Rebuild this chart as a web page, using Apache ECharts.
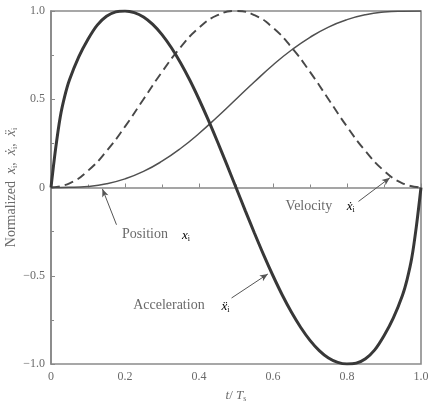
<!DOCTYPE html>
<html>
<head>
<meta charset="utf-8">
<script src="https://cdn.jsdelivr.net/npm/echarts@6/dist/echarts.min.js"></script>
<style>html,body{margin:0;padding:0;background:#fff;}#c{width:429px;height:405px;}</style>
</head>
<body>
<div id="c"></div>
<script>
// Data
const tValues = [0,0.05,0.1,0.15,0.2,0.25,0.3,0.35,0.4,0.45,0.5,0.55,0.6,0.65,0.7,0.75,0.8,0.85,0.9,0.95,1.0];
const positionValues = [0,0.001,0.006,0.021,0.049,0.091,0.149,0.221,0.306,0.401,0.5,0.599,0.694,0.779,0.851,0.909,0.951,0.979,0.994,0.999,1.0];
const velocityValues = [0,0.024,0.095,0.206,0.345,0.5,0.655,0.794,0.905,0.976,1.0,0.976,0.905,0.794,0.655,0.5,0.345,0.206,0.095,0.024,0];
const accelT = [0,0.0125,0.025,0.0375,0.05,0.075,0.1,0.125,0.15,0.175,0.2,0.225,0.25,0.275,0.3,0.325,0.35,0.375,0.4,0.425,0.45,0.475,0.5,
                0.525,0.55,0.575,0.6,0.625,0.65,0.675,0.7,0.725,0.75,0.775,0.8,0.825,0.85,0.875,0.9,0.925,0.95,0.9625,0.975,0.9875,1.0];
const accelerationValues = [0,0.22,0.40,0.52,0.61,0.74,0.84,0.92,0.97,0.995,1.0,0.991,0.966,0.924,0.866,0.793,0.707,0.609,0.5,0.383,0.259,0.131,0,
                -0.131,-0.259,-0.383,-0.5,-0.609,-0.707,-0.793,-0.866,-0.924,-0.966,-0.991,-1.0,-0.995,-0.97,-0.92,-0.84,-0.74,-0.61,-0.52,-0.40,-0.22,0];
const xTicks = [0,0.2,0.4,0.6,0.8,1.0];
const yTicks = [-1.0,-0.5,0,0.5,1.0];
// annotation arrows: [tail, tip] in data coordinates
const positionArrow = [[0.177,-0.211],[0.139,-0.008]];
const velocityArrow = [[0.831,-0.079],[0.916,0.055]];
const accelerationArrow = [[0.488,-0.626],[0.586,-0.49]];
// annotation anchors (left, middle) in data coordinates: [word, symbol]
const positionLabelAt = [[0.192,-0.268],[0.354,-0.268]];
const velocityLabelAt = [[0.634,-0.104],[0.799,-0.104]];
const accelerationLabelAt = [[0.222,-0.670],[0.461,-0.670]];

const pair = (xs, ys) => xs.map((x,i)=>[x, ys[i]]);
const textColor = '#6a6a6a';
const font = '"Liberation Serif","DejaVu Serif",serif';
const sub = (fs) => ({fontSize:fs, fontFamily:font, color:textColor, padding:[Math.round(fs*0.9),0,0,0]});
const it = (fs) => ({fontSize:fs, fontFamily:font, fontStyle:'italic', color:textColor});
const nrm = (fs) => ({fontSize:fs, fontFamily:font, color:textColor});

const arrowLine = (a) => ({
  silent:true, symbol:['none','arrow'], symbolSize:[5,8],
  lineStyle:{color:'#555', width:1, type:'solid'},
  label:{show:false},
  data:[[{coord:a[0]},{coord:a[1]}]]
});

const axisCommon = {
  type:'value',
  axisLine:{show:true, lineStyle:{color:'#888', width:1.6}},
  axisTick:{show:true, inside:true, length:4, lineStyle:{color:'#888'}},
  minorTick:{show:true, splitNumber:2, length:3, lineStyle:{color:'#888'}},
  splitLine:{show:false}
};

const chart = echarts.init(document.getElementById('c'));
chart.setOption({
  animation:false,
  backgroundColor:'#fff',
  grid:{left:51, right:8, top:11, bottom:41, outerBoundsMode:'none', containLabel:false,
        show:true, borderColor:'#8a8a8a', borderWidth:1.6},
  xAxis:Object.assign({}, axisCommon, {
    min:xTicks[0], max:xTicks[xTicks.length-1], interval:0.2,
    axisLabel:{color:textColor, fontFamily:font, fontSize:12, margin:7,
      formatter:v => v===0 ? '0' : v.toFixed(1)},
    name:'{i|t}{n|/ }{i|T}{s|s}', nameLocation:'middle', nameGap:24,
    nameTextStyle:{color:textColor, fontFamily:font, fontSize:13,
      rich:{i:it(13), n:nrm(13), s:sub(8)}}
  }),
  yAxis:Object.assign({}, axisCommon, {
    min:yTicks[0], max:yTicks[yTicks.length-1], interval:0.5,
    axisLabel:{color:textColor, fontFamily:font, fontSize:12, margin:6,
      formatter:v => v===0 ? '0' : (v<0 ? '\u2212'+Math.abs(v).toFixed(1) : v.toFixed(1))},
    name:'{n|Normalized  }{i|x}{s|i}{n|,  }{i|\u1E8B}{s|i}{n|,  }{i|\u1E8D}{s|i}', nameLocation:'middle', nameGap:32, nameRotate:90,
    nameMoveOverlap:false,
    nameTextStyle:{color:textColor, fontFamily:font, fontSize:14,
      rich:{i:it(14), n:nrm(14), s:sub(8)}}
  }),
  series:[
    {type:'line', name:'Position', data:pair(tValues, positionValues), smooth:true, symbol:'none',
     lineStyle:{color:'#505050', width:1.5}, markLine:arrowLine(positionArrow)},
    {type:'line', name:'Velocity', data:pair(tValues, velocityValues), smooth:true, symbol:'none',
     lineStyle:{color:'#484848', width:1.9, type:[9,5]}, markLine:arrowLine(velocityArrow)},
    {type:'line', name:'Acceleration', data:pair(accelT, accelerationValues), smooth:0.3, symbol:'none',
     lineStyle:{color:'#383838', width:3}, markLine:arrowLine(accelerationArrow)}
  ]
});

function label(at, word, sym) {
  const p = chart.convertToPixel({gridIndex:0}, at[0]);
  const q = chart.convertToPixel({gridIndex:0}, at[1]);
  return [
    {type:'text', x:p[0], y:p[1], silent:true,
     style:{text:word, fontSize:14, fontFamily:font, fill:textColor, verticalAlign:'middle', align:'left'}},
    {type:'text', x:q[0], y:q[1]-7, silent:true,
     style:{text:'{i|'+sym+'}{s|i}', rich:{i:it(13), s:sub(8)}}}
  ];
}
chart.setOption({graphic:[].concat(
  label(positionLabelAt,'Position','x'),
  label(velocityLabelAt,'Velocity','\u1E8B'),
  label(accelerationLabelAt,'Acceleration','\u1E8D')
)});
</script>
</body>
</html>
